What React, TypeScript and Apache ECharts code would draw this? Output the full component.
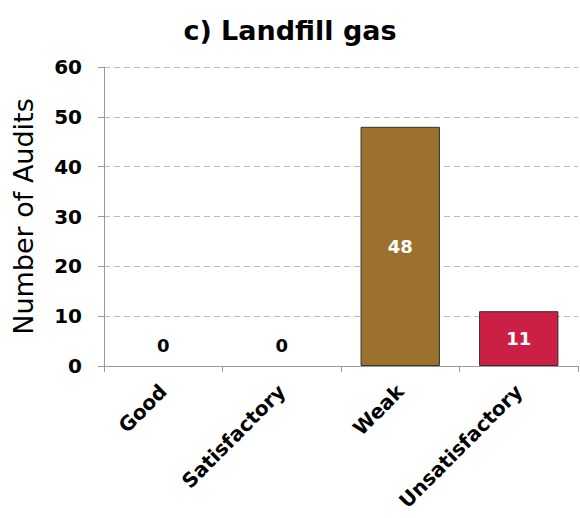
import React, { useEffect, useRef } from "react";
import * as echarts from "echarts";

const categories = ["Good", "Satisfactory", "Weak", "Unsatisfactory"];
const values = [0, 0, 48, 11];
const barColors = ["#9B712D", "#9B712D", "#9B712D", "#CC1F45"];
const yTicks = { min: 0, max: 60, interval: 10 };
const titleText = "c) Landfill gas";
const yName = "Number of Audits";

export default function App() {
  const ref = useRef<HTMLDivElement>(null);
  useEffect(() => {
    if (!ref.current) return;
    const chart = echarts.init(ref.current, undefined, { renderer: "svg" });
    const font = "Verdana, 'DejaVu Sans', sans-serif";
    chart.setOption({
      animation: false,
      title: {
        text: titleText,
        left: 285,
        top: 12,
        textAlign: "center",
        textStyle: { fontFamily: font, fontWeight: "bold", fontSize: 27, color: "#000" },
      },
      grid: { left: 104, right: 2, top: 67, bottom: 152, containLabel: false },
      xAxis: {
        type: "category",
        data: categories,
        axisLine: { lineStyle: { color: "#999" } },
        axisTick: { show: true, length: 6, lineStyle: { color: "#999" } },
        axisLabel: {
          rotate: 45,
          margin: 22,
          interval: 0,
          fontFamily: font,
          fontWeight: "bold",
          fontSize: 20,
          color: "#000",
        },
      },
      yAxis: {
        type: "value",
        min: yTicks.min,
        max: yTicks.max,
        interval: yTicks.interval,
        name: yName,
        nameLocation: "middle",
        nameGap: 67,
        nameTextStyle: { fontFamily: font, fontSize: 27, color: "#000" },
        axisLine: { show: true, lineStyle: { color: "#999" } },
        axisTick: { show: true, length: 6, lineStyle: { color: "#999" } },
        axisLabel: {
          margin: 22,
          fontFamily: font,
          fontWeight: "bold",
          fontSize: 20,
          color: "#000",
        },
        splitLine: { lineStyle: { color: "#BBB", type: [6, 4] } },
      },
      series: [
        {
          type: "bar",
          barWidth: "67%",
          data: values.map((v, i) => ({
            value: v,
            itemStyle: { color: barColors[i], borderColor: "#333", borderWidth: v === 0 ? 0 : 1 },
            label: v === 0
              ? { position: "top", distance: 12, color: "#000" }
              : { position: "inside", color: "#fff" },
          })),
          label: {
            show: true,
            fontFamily: font,
            fontWeight: "bold",
            fontSize: 18,
          },
        },
      ],
    });
    return () => chart.dispose();
  }, []);
  return <div ref={ref} style={{ position: "absolute", left: 0, top: 0, width: 580, height: 518 }} />;
}
